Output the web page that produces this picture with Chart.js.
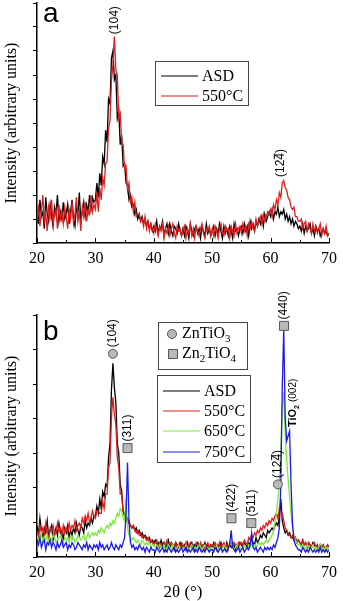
<!DOCTYPE html>
<html lang="en">
<head>
<meta charset="UTF-8" />
<title>XRD patterns</title>
<script src="https://cdn.jsdelivr.net/npm/chart.js@4.4.1/dist/chart.umd.min.js"></script>
<style>
  body { margin: 0; background: #fff; }
  canvas { display: block; }
</style>
</head>
<body>
<canvas id="chartA" width="343" height="285"></canvas>
<canvas id="chartB" width="343" height="316"></canvas>

<script>
// 2-theta grid of the scans
const twoThetaStart = 20;
const twoThetaStep = 0.25;

// panel a: as-spray-dried powder and 550 °C
const asdA = [
  14,8,18,11,13,6,19,12,9,16,11,7,15,12,20,9,13,10,17,10,
  12,16,8,13,18,10,7,15,12,21,9,13,17,11,16,13,20,14,19,17,
  18,25,19,29,24,36,33,47,42,60,58,77,80,68,70,52,55,41,45,32,
  33,25,24,18,20,15,16,12,14,10,12,9,11,8,10,7,9,6,8,5,
  7,5,9,4,7,6,9,3,6,8,4,8,5,3,7,6,4,8,5,3,
  6,3,7,5,2,8,5,3,6,7,4,6,2,7,5,3,8,4,6,3,
  5,7,3,6,4,8,5,2,7,4,6,3,7,5,2,8,5,6,3,6,
  7,4,8,5,7,3,9,6,8,5,9,7,10,8,11,7,12,9,11,13,
  11,14,10,13,12,15,11,13,12,14,10,12,9,11,8,10,7,9,8,6,
  7,5,8,4,7,5,6,8,4,6,3,7,5,6,3,5,6,4,5,3,
  4
];
const c550A = [
  10,16,7,13,20,9,12,5,15,11,18,8,12,14,6,16,10,13,8,15,
  11,6,14,10,17,8,12,19,9,13,5,15,11,17,9,14,12,20,13,16,
  14,21,13,23,18,27,24,33,34,48,51,68,74,86,72,70,52,54,42,41,
  31,32,22,25,17,19,13,17,11,12,12,9,10,7,11,6,9,5,8,6,
  4,8,6,3,7,5,8,2,6,4,7,3,6,8,4,2,7,5,6,3,
  5,7,2,6,4,8,3,6,2,7,5,3,6,8,4,2,6,5,7,3,
  6,3,7,5,2,6,8,4,3,7,5,6,2,7,5,3,8,4,6,7,
  4,8,5,7,3,8,6,9,6,5,10,7,9,11,8,12,9,11,13,12,
  14,11,16,14,18,16,21,19,25,26,23,22,19,18,15,14,15,11,11,9,
  9,10,6,8,9,5,8,6,4,8,5,7,4,6,8,3,6,4,7,3,
  4
];

// panel b: ASD, 550, 650 and 750 °C
const asdB = [
  13,9,16,11,8,12,10,15,8,11,13,7,10,12,9,14,10,11,7,12,
  10,13,8,11,9,12,10,14,11,9,13,12,10,15,12,14,13,16,14,17,
  17,21,18,24,20,27,25,30,29,41,47,69,80,70,64,47,43,30,27,19,
  18,15,16,14,13,12,13,11,12,10,11,9,10,8,9,8,7,8,6,7,
  6,7,5,6,4,7,5,6,3,5,7,4,6,5,3,6,5,4,6,5,
  4,5,3,6,4,5,6,3,5,4,6,5,3,5,4,6,4,5,3,5,
  4,6,5,3,5,4,6,4,5,3,6,4,5,4,6,5,3,5,4,6,
  5,4,6,5,4,6,5,7,6,5,8,6,7,9,8,10,9,8,11,10,
  11,12,11,13,14,13,17,24,15,12,10,11,9,10,8,8,7,8,6,7,
  6,5,7,5,6,4,6,5,4,6,5,4,5,3,5,4,5,3,4,5,
  4
];
const c550B = [
  11,8,13,10,12,9,14,10,8,12,11,13,9,10,14,11,12,9,13,10,
  12,10,14,11,13,12,15,11,13,14,12,16,14,17,15,18,14,16,19,17,
  16,19,19,18,18,23,20,26,26,37,39,58,66,59,55,41,37,26,26,18,
  17,16,14,15,13,12,13,11,10,11,9,10,8,9,8,7,8,6,7,6,
  5,6,7,4,6,5,4,6,5,7,4,5,6,4,5,6,3,5,4,6,
  5,4,6,3,5,6,4,5,3,6,5,4,6,4,5,3,5,6,4,5,
  5,4,6,5,3,6,4,5,6,4,5,3,6,5,4,6,5,4,6,5,
  6,5,7,6,5,8,7,9,8,10,9,11,10,12,11,13,12,14,13,15,
  14,16,15,17,18,16,20,19,18,15,12,11,10,9,8,9,7,8,6,7,
  6,5,7,5,6,4,6,5,4,5,6,4,5,3,5,4,5,4,3,5,
  4
];
const c650B = [
  9,7,8,10,6,8,7,9,6,8,7,9,8,6,7,8,9,7,6,8,
  7,8,6,9,7,8,6,7,9,8,7,8,9,7,8,10,8,9,10,9,
  10,9,11,10,12,11,10,12,13,12,14,13,15,14,16,18,17,20,19,16,
  15,24,12,9,8,7,8,7,6,7,6,5,7,6,5,6,5,6,4,5,
  5,4,5,3,5,4,4,5,3,4,5,4,3,5,4,3,4,5,3,4,
  4,3,5,4,3,4,5,3,4,4,3,5,4,3,4,5,3,4,3,4,
  4,3,4,5,3,4,3,4,5,4,3,4,5,6,4,3,4,5,3,4,
  3,4,5,4,3,5,4,6,4,5,4,5,6,5,6,5,6,7,6,7,
  8,9,11,14,18,24,30,45,62,68,50,40,32,25,18,12,9,7,6,5,
  5,4,5,4,3,5,4,3,4,5,3,4,3,4,5,3,4,3,4,3,
  4
];
const c750B = [
  7,5,8,4,6,7,3,6,5,7,4,6,5,3,6,4,5,7,4,5,
  6,3,5,4,6,5,3,4,6,5,4,3,5,4,6,3,5,4,3,5,
  4,5,3,6,4,5,3,4,5,3,4,6,4,3,5,4,3,5,4,6,
  8,18,39,15,6,4,5,3,4,3,5,4,3,4,2,4,3,2,4,3,
  3,2,4,3,2,3,4,2,3,2,4,3,2,3,4,2,3,2,3,4,
  2,3,4,2,3,2,3,4,2,3,2,4,3,2,3,2,4,3,2,3,
  3,2,4,3,2,3,4,2,3,3,2,4,5,11,4,3,2,3,4,2,
  3,4,2,3,4,3,5,10,4,3,4,2,3,4,3,2,4,3,4,3,
  4,3,5,4,6,8,12,30,70,94,58,48,50,52,30,14,7,5,4,3,
  3,2,4,3,2,3,2,4,3,2,3,2,3,2,4,2,3,2,3,2,
  3
];

const seriesNames = ['ASD', '550°C', '650°C', '750°C'];
const seriesColors = ['#000000', '#e01e1e', '#7be83a', '#1a1ae8'];

// reflection labels, panel a
const reflA = ['(104)', '(124)'];
const reflABar = [-1, 3];          // index of the overlined digit, -1 = none
const reflAPos = [33.3, 61.7];
const reflALevel = [87, 27.5];

// reflection labels, panel b; 'c' = ZnTiO3 (circle), 's' = Zn2TiO4 (square)
const reflB = ['(104)', '(311)', '(422)', '(511)', '(124)', '(440)'];
const reflBBar = [-1, -1, -1, -1, 3, -1];
const reflBPhase = ['c', 's', 's', 's', 'c', 's'];
const reflBPos = [33.0, 35.5, 53.3, 56.7, 61.25, 62.3];
const reflBLevel = [84, 45, 16, 14, 30, 95.5];

// TiO2 (002) reflection
const tio2Pos = 63.9;
const tio2Level = 53.7;

const serif = '"Liberation Serif", "Times New Roman", serif';
const sans = '"Liberation Sans", Arial, sans-serif';
const markerFill = '#b9b9b9';
const markerEdge = '#555555';

function points(values) {
  return values.map((v, i) => ({ x: twoThetaStart + i * twoThetaStep, y: v }));
}

function dataset(i, values, order) {
  return {
    label: seriesNames[i],
    data: points(values),
    borderColor: seriesColors[i],
    borderWidth: 1.3,
    pointRadius: 0,
    tension: 0,
    order: order
  };
}

function xAxis(showTitle, height) {
  return {
    type: 'linear', min: 20, max: 70,
    ticks: {
      stepSize: 5, autoSkip: false, maxRotation: 0, padding: 6, color: '#000',
      font: { family: serif, size: 16 },
      callback: v => (v % 10 === 0 ? v : '')
    },
    grid: { display: false, drawTicks: false },
    border: { color: '#000', width: 1.5 },
    title: {
      display: showTitle, text: '2θ (°)', color: '#000', padding: 0,
      font: { family: serif, size: 17, lineHeight: 1 }
    },
    afterFit: s => { s.height = height; }
  };
}

function yAxis(divisions) {
  return {
    min: 0, max: 100,
    ticks: { display: false },
    afterBuildTicks: s => {
      s.ticks = Array.from({ length: divisions + 1 }, (_, i) => ({ value: i * 100 / divisions }));
    },
    grid: { drawOnChartArea: false, drawTicks: true, tickLength: 4, color: '#000', lineWidth: 1 },
    border: { color: '#000', width: 1.5 },
    title: {
      display: true, text: 'Intensity (arbitrary units)', color: '#000',
      padding: { top: 2, bottom: 0 },
      font: { family: serif, size: 16 }
    },
    afterFit: s => { s.width = 37; }
  };
}

// small inward tick marks on the 2-theta axis
function inwardTicks(chart) {
  const ctx = chart.ctx, x = chart.scales.x, bottom = chart.chartArea.bottom;
  ctx.save();
  ctx.strokeStyle = '#000';
  ctx.lineWidth = 1;
  x.ticks.forEach(t => {
    const px = Math.round(x.getPixelForValue(t.value)) + 0.5;
    const len = t.value % 10 === 0 ? 5 : 3;
    ctx.beginPath();
    ctx.moveTo(px, bottom);
    ctx.lineTo(px, bottom - len);
    ctx.stroke();
  });
  ctx.restore();
}

function drawMarker(ctx, kind, cx, cy) {
  ctx.save();
  ctx.fillStyle = markerFill;
  ctx.strokeStyle = markerEdge;
  ctx.lineWidth = 1;
  ctx.beginPath();
  if (kind === 'c') ctx.arc(cx, cy, 4.5, 0, Math.PI * 2);
  else ctx.rect(cx - 4.5, cy - 4.5, 9, 9);
  ctx.fill();
  ctx.stroke();
  ctx.restore();
}

// text rotated to read upwards, starting at (px, py)
function drawRotated(ctx, text, bar, px, py, size) {
  ctx.save();
  ctx.translate(px, py);
  ctx.rotate(-Math.PI / 2);
  ctx.font = size + 'px ' + sans;
  ctx.fillStyle = '#000';
  ctx.textAlign = 'left';
  ctx.textBaseline = 'middle';
  ctx.fillText(text, 0, 0);
  if (bar >= 0) {
    const x0 = ctx.measureText(text.slice(0, bar)).width;
    const w = ctx.measureText(text[bar]).width;
    ctx.strokeStyle = '#000';
    ctx.lineWidth = 1;
    ctx.beginPath();
    ctx.moveTo(x0 + 0.5, -size * 0.52);
    ctx.lineTo(x0 + w - 0.5, -size * 0.52);
    ctx.stroke();
  }
  ctx.restore();
}

// text with subscripts: parts = [[text, isSub], ...]
function drawRich(ctx, parts, x, y, size, family, weight) {
  ctx.save();
  ctx.fillStyle = '#000';
  ctx.textAlign = 'left';
  ctx.textBaseline = 'middle';
  let cx = x;
  parts.forEach(([t, sub]) => {
    const s = sub ? Math.round(size * 0.68) : size;
    ctx.font = (weight || '') + ' ' + s + 'px ' + family;
    ctx.fillText(t, cx, sub ? y + size * 0.3 : y);
    cx += ctx.measureText(t).width;
  });
  ctx.restore();
}

function drawLineLegend(ctx, box, rows, colors, names) {
  ctx.save();
  ctx.strokeStyle = '#444';
  ctx.lineWidth = 1;
  ctx.strokeRect(box.x + 0.5, box.y + 0.5, box.w, box.h);
  names.forEach((name, i) => {
    ctx.strokeStyle = colors[i];
    ctx.lineWidth = 1.2;
    ctx.beginPath();
    ctx.moveTo(box.x + 6, rows[i]);
    ctx.lineTo(box.x + 43, rows[i]);
    ctx.stroke();
    ctx.fillStyle = '#000';
    ctx.font = '16px ' + serif;
    ctx.textBaseline = 'middle';
    ctx.fillText(name, box.x + 47, rows[i] + 1);
  });
  ctx.restore();
}

function panelLetter(ctx, letter, y) {
  ctx.save();
  ctx.fillStyle = '#000';
  ctx.font = '28px ' + sans;
  ctx.textBaseline = 'alphabetic';
  ctx.fillText(letter, 43, y);
  ctx.restore();
}

const decorA = {
  id: 'decorA',
  afterDraw(chart) {
    const ctx = chart.ctx, x = chart.scales.x, y = chart.scales.y;
    inwardTicks(chart);
    panelLetter(ctx, 'a', 22);
    reflA.forEach((t, i) => {
      drawRotated(ctx, t, reflABar[i], x.getPixelForValue(reflAPos[i]), y.getPixelForValue(reflALevel[i]), 12);
    });
    drawLineLegend(ctx, { x: 155, y: 61, w: 93, h: 44 }, [76, 96], seriesColors, seriesNames.slice(0, 2));
  }
};

const decorB = {
  id: 'decorB',
  afterDraw(chart) {
    const ctx = chart.ctx, x = chart.scales.x, y = chart.scales.y;
    inwardTicks(chart);
    panelLetter(ctx, 'b', 55);
    reflB.forEach((t, i) => {
      const px = x.getPixelForValue(reflBPos[i]);
      const py = y.getPixelForValue(reflBLevel[i]);
      drawMarker(ctx, reflBPhase[i], px, py);
      drawRotated(ctx, t, reflBBar[i], px, py - 6.5, 12);
    });

    // TiO2 (002)
    ctx.save();
    ctx.translate(x.getPixelForValue(tio2Pos), y.getPixelForValue(tio2Level));
    ctx.rotate(-Math.PI / 2);
    drawRich(ctx, [['TiO', false], ['2', true]], 0, 0, 11, sans, 'bold');
    ctx.font = 'bold 11px ' + sans;
    let w = ctx.measureText('TiO').width;
    ctx.font = 'bold 7px ' + sans;
    w += ctx.measureText('2').width + 3;
    drawRich(ctx, [['(002)', false]], w, 0, 10, sans, '');
    ctx.restore();

    // phase legend
    ctx.save();
    ctx.strokeStyle = '#444';
    ctx.lineWidth = 1;
    ctx.strokeRect(158.5, 37.5, 89, 47);
    ctx.restore();
    drawMarker(ctx, 'c', 172, 49);
    drawRich(ctx, [['ZnTiO', false], ['3', true]], 182, 49, 16, serif);
    drawMarker(ctx, 's', 173, 69);
    drawRich(ctx, [['Zn', false], ['2', true], ['TiO', false], ['4', true]], 182, 69, 16, serif);

    drawLineLegend(ctx, { x: 157, y: 90, w: 93, h: 87 }, [106, 126, 146, 167], seriesColors, seriesNames);
  }
};

Chart.defaults.animation = false;

new Chart(document.getElementById('chartA'), {
  type: 'line',
  data: { datasets: [dataset(0, asdA, 2), dataset(1, c550A, 1)] },
  options: {
    responsive: false,
    devicePixelRatio: 1,
    layout: { padding: { top: 3, right: 9, left: 0, bottom: 0 } },
    scales: { x: xAxis(false, 42), y: yAxis(10) },
    plugins: { legend: { display: false }, tooltip: { enabled: false } }
  },
  plugins: [decorA]
});

new Chart(document.getElementById('chartB'), {
  type: 'line',
  data: {
    datasets: [
      dataset(0, asdB, 4), dataset(1, c550B, 3),
      dataset(2, c650B, 2), dataset(3, c750B, 1)
    ]
  },
  options: {
    responsive: false,
    devicePixelRatio: 1,
    layout: { padding: { top: 30, right: 9, left: 0, bottom: 0 } },
    scales: { x: xAxis(true, 44), y: yAxis(7) },
    plugins: { legend: { display: false }, tooltip: { enabled: false } }
  },
  plugins: [decorB]
});
</script>
</body>
</html>
